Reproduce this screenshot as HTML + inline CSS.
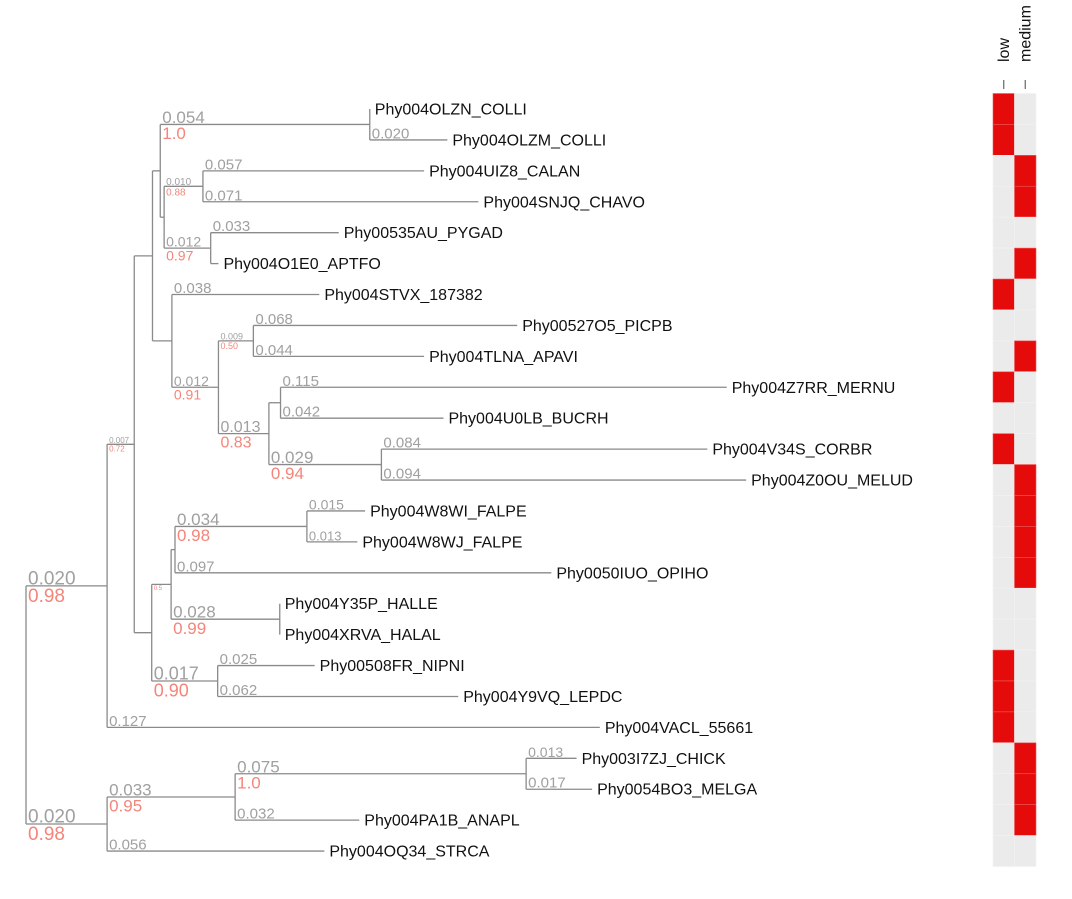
<!DOCTYPE html>
<html><head><meta charset="utf-8"><style>
html,body{margin:0;padding:0;background:#fff;}
svg{display:block;font-family:"Liberation Sans",sans-serif;}
</style></head><body>
<svg id="chart" width="1072" height="899" viewBox="0 0 1072 899" xmlns="http://www.w3.org/2000/svg"></svg>
<script>
// Tree data (nodes in top-to-bottom order; parent index, branch length)
const nodeNames = ["root","A","B","C","E","COLLI","Phy004OLZN_COLLI","Phy004OLZM_COLLI","F","G","Phy004UIZ8_CALAN","Phy004SNJQ_CHAVO","H","Phy00535AU_PYGAD","Phy004O1E0_APTFO","I","Phy004STVX_187382","J","K","Phy00527O5_PICPB","Phy004TLNA_APAVI","L","M","Phy004Z7RR_MERNU","Phy004U0LB_BUCRH","N","Phy004V34S_CORBR","Phy004Z0OU_MELUD","D","P","R","T","Phy004W8WI_FALPE","Phy004W8WJ_FALPE","Phy0050IUO_OPIHO","S","Phy004Y35P_HALLE","Phy004XRVA_HALAL","Q","Phy00508FR_NIPNI","Phy004Y9VQ_LEPDC","Phy004VACL_55661","U","V","W","Phy003I7ZJ_CHICK","Phy0054BO3_MELGA","Phy004PA1B_ANAPL","Phy004OQ34_STRCA"];
const nodeParent = [-1,0,1,2,3,4,5,5,4,8,9,9,8,12,12,3,15,15,17,18,18,17,21,22,22,21,25,25,2,28,29,30,31,31,30,29,35,35,28,38,38,1,0,42,43,44,44,43,42];
const branchLen = [0,0.0209,0.007,0.0047,0.002,0.054,0,0.020,0.001,0.010,0.057,0.071,0.012,0.033,0.002,0.005,0.038,0.012,0.009,0.068,0.044,0.013,0.003,0.115,0.042,0.029,0.084,0.094,0.0045,0.005,0.001,0.034,0.015,0.013,0.097,0.028,0,0,0.017,0.025,0.062,0.127,0.0209,0.033,0.075,0.013,0.017,0.032,0.056];
const lenLabels = ["","0.020","0.007","","","0.054","","0.020","","0.010","0.057","0.071","0.012","0.033","","","0.038","0.012","0.009","0.068","0.044","0.013","","0.115","0.042","0.029","0.084","0.094","","","","0.034","0.015","0.013","0.097","0.028","","","0.017","0.025","0.062","0.127","0.020","0.033","0.075","0.013","0.017","0.032","0.056"];
const supportLabels = ["","0.98","0.72","","","1.0","","","","0.88","","","0.97","","","","","0.91","0.50","","","0.83","","","","0.94","","","","0.5","","0.98","","","","0.99","","","0.90","","","","0.98","0.95","1.0","","","",""];
const labelSize = [0,19,8,0,0,17,0,15,0,10,15,15,14,15,0,0,15,14,9,15,15,16,0,15,15,17,15,15,0,6,0,17,14,13,15,17,0,0,18,15,15,15,19,17,17,14,15,15,15];
// Heatmap data per tip (top to bottom)
const heatCols = ["low","medium"];
const lowVals = [1,1,0,0,0,0,1,0,0,1,0,1,0,0,0,0,0,0,1,1,1,0,0,0,0];
const medVals = [0,0,1,1,0,1,0,0,1,0,0,0,1,1,1,1,0,0,0,0,0,1,1,1,0];

const svg = document.getElementById('chart');
const NS = "http://www.w3.org/2000/svg";
const xScale = v => 26 + v * 3880;
const yScale = i => 109 + i * 30.92;
function mk(tag, attrs, txt){const e=document.createElementNS(NS,tag);for(const k in attrs)e.setAttribute(k,attrs[k]);if(txt!==undefined)e.textContent=txt;svg.appendChild(e);return e;}

const n = nodeNames.length;
const children = nodeNames.map(()=>[]);
for(let i=1;i<n;i++) children[nodeParent[i]].push(i);
const depth = new Array(n).fill(0), yPos = new Array(n).fill(0);
for(let i=1;i<n;i++) depth[i] = depth[nodeParent[i]] + branchLen[i];
let tipIdx = 0;
function layout(i){
  if(children[i].length===0){ yPos[i]=yScale(tipIdx++); return; }
  children[i].forEach(layout);
  const c=children[i]; yPos[i]=(yPos[c[0]]+yPos[c[c.length-1]])/2;
}
layout(0);

const lineCol="#8a8a8a";
for(let i=0;i<n;i++){
  const x=xScale(depth[i]), y=yPos[i];
  if(i>0){
    const px=xScale(depth[nodeParent[i]]);
    const br=mk('line',{x1:px,y1:y,x2:x,y2:y,stroke:lineCol,'stroke-width':1.3});
    
    
    if(lenLabels[i]){
      const t=mk('text',{x:px+2,y:y-1.5,fill:'#a0a0a0','font-size':labelSize[i]},lenLabels[i]);
      
      
    }
    if(supportLabels[i]){
      const t=mk('text',{x:px+2,y:y+labelSize[i]*0.8+1,fill:'#f4857a','font-size':labelSize[i]},supportLabels[i]);
      
      
    }
  }
  const c=children[i];
  if(c.length){
    const v=mk('line',{x1:x,y1:yPos[c[0]],x2:x,y2:yPos[c[c.length-1]],stroke:lineCol,'stroke-width':1.3});
    
    
  } else {
    const t=mk('text',{x:x+5,y:y+5.5,fill:'#111','font-size':16},nodeNames[i]);
    
    
  }
}

// Heatmap
const colX = [993,1014.5], cw=21.5;
const series=[lowVals,medVals];
series.forEach((vals,ci)=>{
  vals.forEach((v,r)=>{
    const cell=mk('rect',{x:colX[ci],y:yScale(r)-15.5,width:cw,height:30.92,fill:v?'#e50b0b':'#ebebeb',stroke:v?'#ef5a5a':'#f2f2f2','stroke-width':0.6});
    
    
  });
  const tk=mk('line',{x1:colX[ci]+cw/2,y1:80,x2:colX[ci]+cw/2,y2:89,stroke:'#666','stroke-width':1.2});
  
  
  const cx=colX[ci]+cw/2+5;
  const lbl=mk('text',{x:cx,y:62,'font-size':16,fill:'#111',transform:`rotate(-90 ${cx} 62)`},heatCols[ci]);
  
  
});
</script>
</body></html>
